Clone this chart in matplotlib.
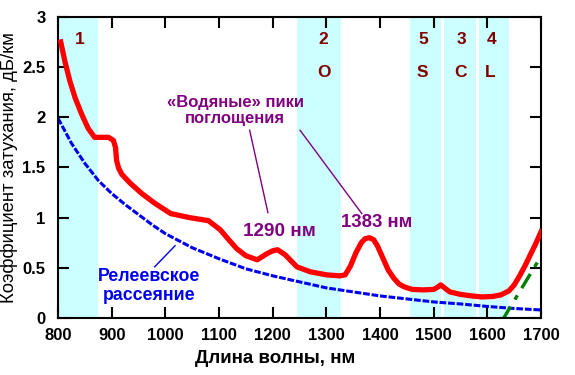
import numpy as np
import matplotlib.pyplot as plt

plt.rcParams['font.family'] = ['Liberation Sans', 'DejaVu Sans']

# измеренные точки кривой затухания, нм / дБ/км
wl_loss = [805, 813, 822, 832, 844, 856, 868, 880, 894, 903, 907, 909, 913, 919, 935, 956,
           981, 1010, 1045, 1080, 1102, 1118, 1133, 1150, 1171, 1189, 1200, 1209, 1223,
           1245, 1270, 1300, 1325, 1335, 1345, 1355, 1365, 1372, 1380, 1388, 1395, 1405,
           1415, 1425, 1435, 1445, 1460, 1480, 1500, 1508, 1513, 1520, 1530, 1550, 1570,
           1590, 1610, 1625, 1640, 1650, 1660, 1670, 1680, 1690, 1700]
loss = [2.75, 2.55, 2.36, 2.19, 2.03, 1.89, 1.80, 1.80, 1.80, 1.77, 1.70, 1.57, 1.49, 1.43,
        1.34, 1.24, 1.14, 1.04, 1.00, 0.97, 0.88, 0.78, 0.69, 0.62, 0.58, 0.64, 0.67, 0.68,
        0.63, 0.51, 0.46, 0.43, 0.42, 0.43, 0.52, 0.65, 0.75, 0.79, 0.80, 0.78, 0.72, 0.60,
        0.48, 0.40, 0.34, 0.31, 0.285, 0.28, 0.285, 0.31, 0.33, 0.30, 0.26, 0.235, 0.22,
        0.21, 0.215, 0.23, 0.27, 0.33, 0.42, 0.52, 0.63, 0.74, 0.86]

# рэлеевское рассеяние
wl_ray = [800, 825, 850, 875, 900, 925, 950, 975, 1000, 1050, 1100, 1150, 1200, 1250, 1300,
          1350, 1400, 1450, 1500, 1550, 1600, 1650, 1700]
ray = [1.99, 1.74, 1.54, 1.37, 1.24, 1.13, 1.03, 0.93, 0.84, 0.70, 0.59, 0.49, 0.42, 0.36, 0.30,
       0.26, 0.22, 0.19, 0.16, 0.14, 0.115, 0.095, 0.08]

# ИК-поглощение
wl_ir = [1627, 1705]
ir = [-0.03, 0.66]

# спектральные окна
bands = [(800, 875), (1246, 1327), (1455, 1513), (1520, 1578), (1585, 1640)]
band_num = ['1', '2', '5', '3', '4']
band_num_x = [840, 1295, 1480, 1552, 1608]
band_let = ['O', 'S', 'C', 'L']
band_let_x = [1295, 1478, 1550, 1606]

fig, ax = plt.subplots(figsize=(5.75, 3.75), dpi=100)
fig.subplots_adjust(left=0.101, right=0.941, bottom=0.152, top=0.955)

for a, b in bands:
    ax.axvspan(a, b, color='#ccffff', lw=0, zorder=0)

ax.plot(wl_ray, ray, color='#0000ee', lw=2.2, ls=(0, (2.2, 0.6)), zorder=2)
ax.plot(wl_ir, ir, color='#008000', lw=2.4, ls=(0, (5, 2.5, 1.5, 2.5)), zorder=2)
ax.plot(wl_loss, loss, color='#ff0000', lw=3.8, solid_joinstyle='round', zorder=3)

dark_red = '#800000'
for s, x in zip(band_num, band_num_x):
    ax.text(x, 2.77, s, color=dark_red, fontsize=12.5, ha='center', va='center', fontweight='bold')
for s, x in zip(band_let, band_let_x):
    ax.text(x, 2.45, s, color=dark_red, fontsize=12.5, ha='center', va='center', fontweight='bold')

purple = '#800080'
ax.text(1130, 2.07, '«Водяные» пики\nпоглощения', color=purple, fontsize=12,
        ha='center', va='center', fontweight='bold', linespacing=1.1)
ax.plot([1157, 1191], [1.87, 1.05], color=purple, lw=1)
ax.plot([1251, 1366], [1.87, 1.04], color=purple, lw=1)
ax.text(1213, 0.86, '1290 нм', color=purple, fontsize=13.6, ha='center', va='center', fontweight='bold')
ax.text(1394, 0.95, '1383 нм', color=purple, fontsize=13.4, ha='center', va='center', fontweight='bold')

ax.text(970, 0.32, 'Релеевское\nрассеяние', color='#0000ee', fontsize=12.8,
        ha='center', va='center', fontweight='bold', linespacing=1.15)
ax.plot([980, 1018], [0.51, 0.72], color='#0000ee', lw=1)

ax.set_xlim(800, 1700)
ax.set_ylim(0, 3)
ax.set_xticks(np.arange(800, 1701, 100))
ax.set_yticks([0, 0.5, 1, 1.5, 2, 2.5, 3])
ax.set_yticklabels(['0', '0.5', '1', '1.5', '2', '2.5', '3'])
ax.tick_params(direction='in', length=8, width=1.5, top=True, right=True, labelsize=12, pad=7)
ax.tick_params(axis='y', pad=9)
for lab in ax.get_xticklabels() + ax.get_yticklabels():
    lab.set_fontweight('bold')
for sp in ax.spines.values():
    sp.set_linewidth(1.5)

ax.set_xlabel('Длина волны, нм', fontsize=13.5, fontweight='bold', labelpad=5, x=0.45)
ax.set_ylabel('Коэффициент затухания, дБ/км', fontsize=13.3, labelpad=3)

plt.savefig('out.png', dpi=100)
